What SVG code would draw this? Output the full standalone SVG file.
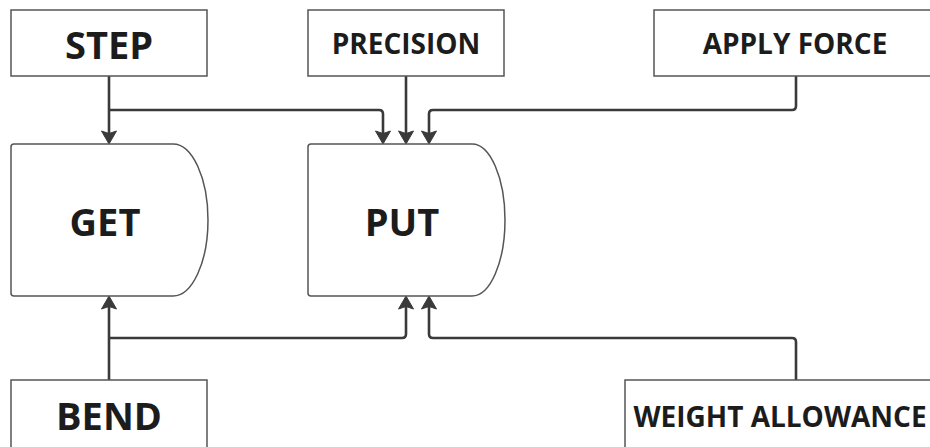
<svg xmlns="http://www.w3.org/2000/svg" width="930" height="447" viewBox="0 0 930 447">
<style>
.box{fill:#fff;stroke:#555;stroke-width:1.5}
.lbl{font-family:"Open Sans","Liberation Sans",sans-serif;font-weight:700;fill:#1c1c1c;text-anchor:middle}
.big{font-size:38px}
.sm{font-size:28px}
.con{fill:none;stroke:#3a3a3a;stroke-width:2.6;stroke-linejoin:round}
.ah{fill:#3a3a3a;stroke:#3a3a3a;stroke-width:1;stroke-linejoin:round}
</style>
<defs>
<path id="down" d="M0,0 L-7.5,-13 L0,-10.5 L7.5,-13 Z"/>
<path id="up" d="M0,0 L-7.5,13 L0,10.5 L7.5,13 Z"/>
</defs>
<rect width="930" height="447" fill="#fff"/>
<g id="connectors">
<path class="con" d="M109,76 V136"/>
<path class="con" d="M109,110 H379 Q383,110 383,114 V136"/>
<path class="con" d="M406,76 V136"/>
<path class="con" d="M796,76 V106 Q796,110 792,110 H433 Q429,110 429,114 V136"/>
<path class="con" d="M109,380 V304"/>
<path class="con" d="M109,338 H402 Q406,338 406,334 V304"/>
<path class="con" d="M796,380 V342 Q796,338 792,338 H433 Q429,338 429,334 V304"/>
<use class="ah" href="#down" x="109" y="144"/>
<use class="ah" href="#down" x="383" y="144"/>
<use class="ah" href="#down" x="406" y="144"/>
<use class="ah" href="#down" x="429" y="144"/>
<use class="ah" href="#up" x="109" y="296"/>
<use class="ah" href="#up" x="406" y="296"/>
<use class="ah" href="#up" x="429" y="296"/>
</g>
<g id="step"><rect class="box" x="11" y="10" width="196" height="66"/><text class="lbl big" x="109" y="59">STEP</text></g>
<g id="precision"><rect class="box" x="308" y="10" width="196" height="66"/><text class="lbl sm" x="406" y="54">PRECISION</text></g>
<g id="apply-force"><rect class="box" x="654" y="10" width="284" height="66"/><text class="lbl sm" x="795" y="54">APPLY FORCE</text></g>
<g id="get"><path class="box" d="M14,144 H173 A35,76 0 0 1 173,296 H14 Q11,296 11,293 V147 Q11,144 14,144 Z"/><text class="lbl big" x="105" y="236">GET</text></g>
<g id="put"><path class="box" d="M311,144 H472 A33,76 0 0 1 472,296 H311 Q308,296 308,293 V147 Q308,144 311,144 Z"/><text class="lbl big" x="402" y="236">PUT</text></g>
<g id="bend"><rect class="box" x="11" y="380" width="196" height="80"/><text class="lbl big" x="109" y="430">BEND</text></g>
<g id="weight-allowance"><rect class="box" x="625" y="380" width="320" height="80"/><text class="lbl sm" x="780" y="427">WEIGHT ALLOWANCE</text></g>
</svg>
